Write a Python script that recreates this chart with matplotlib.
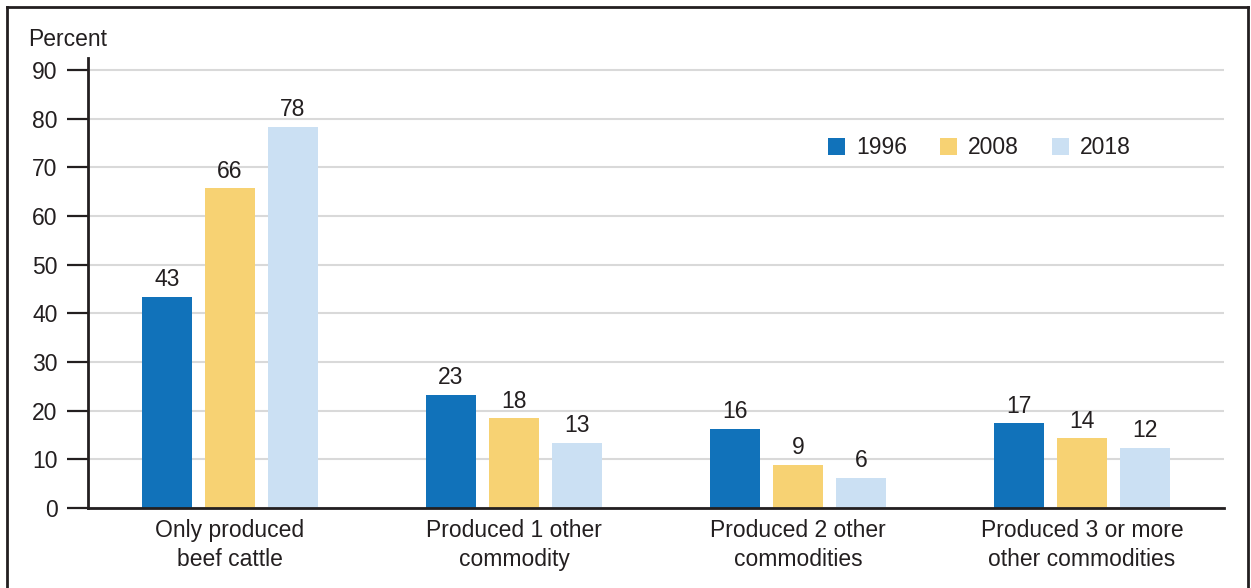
import matplotlib
matplotlib.use("Agg")
import matplotlib.pyplot as plt
import numpy as np
from matplotlib.lines import Line2D
from matplotlib.patches import Patch

categories = ["Only produced\nbeef cattle", "Produced 1 other\ncommodity",
              "Produced 2 other\ncommodities", "Produced 3 or more\nother commodities"]
years = ["1996", "2008", "2018"]
v1996 = [43.4, 23.2, 16.2, 17.4]
v2008 = [65.7, 18.4, 8.8, 14.3]
v2018 = [78.4, 13.3, 6.2, 12.3]
yticks = [0, 10, 20, 30, 40, 50, 60, 70, 80, 90]

colors = ["#1172ba", "#f7d273", "#cbe0f3"]
text_col = "#231f20"

plt.rcParams["font.family"] = ["Liberation Sans", "DejaVu Sans"]

fig = plt.figure(figsize=(12.51, 5.88), dpi=100)
ax = fig.add_axes([88 / 1251, 1 - 508 / 588, (1224 - 88) / 1251, (508 - 58) / 588])

x = np.arange(len(categories)) + 0.5
width = 0.176
step = 0.222
for i, (vals, col) in enumerate(zip([v1996, v2008, v2018], colors)):
    bars = ax.bar(x + (i - 1) * step, vals, width, color=col, zorder=3)
    for b, v in zip(bars, vals):
        ax.text(b.get_x() + b.get_width() / 2, v + 1.2, f"{round(v)}",
                ha="center", va="bottom", fontsize=16.5, color=text_col, zorder=4)

ax.set_xlim(0, 4)
ax.set_ylim(0, 92.5)
ax.set_yticks(yticks)
ax.set_xticks(x)
ax.set_xticklabels(categories, fontsize=16.5, color=text_col, linespacing=1.3)
ax.tick_params(axis="x", length=0, pad=8)
ax.tick_params(axis="y", direction="out", length=15, width=1.6, labelsize=16.5,
               colors="#231f20", pad=7)
ax.grid(axis="y", color="#d9d9d9", linewidth=1.5, zorder=0)
for s in ["top", "right"]:
    ax.spines[s].set_visible(False)
for s in ["left", "bottom"]:
    ax.spines[s].set_linewidth(2)
    ax.spines[s].set_color("#231f20")
    ax.spines[s].set_zorder(5)

fig.text(28 / 1251, 1 - 40 / 588, "Percent", fontsize=16.5, color=text_col,
         va="center", ha="left")

handles = [Patch(facecolor=c, edgecolor="none") for c in colors]
ax.legend(handles, years, ncol=3, frameon=False, fontsize=16.5,
          loc="center left", bbox_to_anchor=(0.6335, 0.80),
          handlelength=0.75, handleheight=0.75, handletextpad=0.45,
          columnspacing=1.46, labelcolor=text_col)

# outer frame (open at the bottom)
fx0, fx1, fy = 7 / 1251, 1248 / 1251, 1 - 7 / 588
for xs, ys in [([fx0, fx0], [0, fy]), ([fx0, fx1], [fy, fy]), ([fx1, fx1], [fy, 0])]:
    fig.add_artist(Line2D(xs, ys, color="#231f20", linewidth=2))

fig.savefig("out.png", dpi=100)
